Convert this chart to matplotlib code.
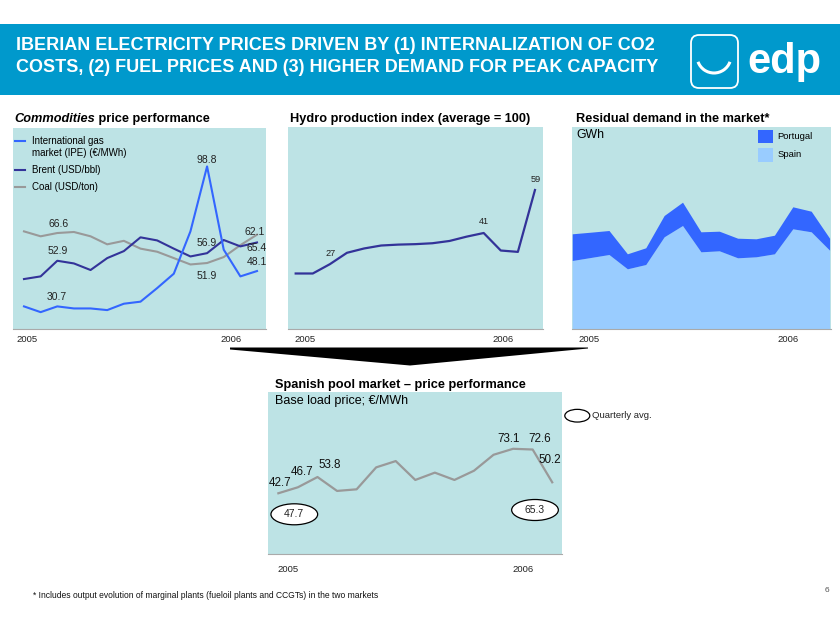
import matplotlib
matplotlib.use('Agg')
import matplotlib.pyplot as plt
from matplotlib.patches import Ellipse, Polygon, FancyBboxPatch, Arc, Rectangle

plt.rcParams['font.family'] = ['Liberation Sans', 'DejaVu Sans']

# ---------------- data ----------------
months = list(range(15))  # Jan 2005 .. Mar 2006, monthly
year_labels = ['2005', '2006']

gas = [30.7, 27.9, 30.7, 29.7, 29.7, 28.9, 32.0, 33.0, 39.6, 46.6, 67.2, 98.8, 58.3, 45.3, 47.9]
brent = [44.0, 45.3, 52.9, 51.6, 48.4, 54.2, 57.6, 64.3, 62.8, 58.8, 55.0, 56.6, 63.0, 59.9, 61.8]
coal = [67.2, 64.8, 66.4, 66.9, 64.8, 60.9, 62.6, 58.8, 57.3, 54.2, 51.1, 51.8, 54.7, 60.5, 65.6]
commodity_names = ['International gas\nmarket (IPE) (€/MWh)', 'Brent (USD/bbl)', 'Coal (USD/ton)']
commodity_labels = ['98.8', '66.6', '52.9', '30.7', '56.9', '62.1', '65.4', '48.1', '51.9']

hydro = [22.9, 22.9, 27.0, 32.0, 33.9, 35.2, 35.6, 35.8, 36.2, 37.2, 39.1, 40.7, 33.0, 32.4, 59.6]
hydro_labels = ['27', '41', '59']

spain = [6800, 7100, 7400, 5970, 6400, 9170, 10300, 7670, 7770, 7070, 7170, 7470, 9970, 9670, 7830]
portugal = [2670, 2530, 2400, 1500, 1670, 2130, 2330, 2000, 1960, 1960, 1800, 1860, 2200, 2060, 1200]
demand_names = ['Portugal', 'Spain']

pool = [42.7, 46.8, 53.8, 44.3, 45.4, 60.4, 64.7, 51.8, 56.8, 51.8, 58.1, 69.0, 73.1, 72.6, 50.2]
pool_labels = ['42.7', '46.7', '53.8', '73.1', '72.6', '50.2']
quarterly_avg = ['47.7', '65.3']

# ---------------- style ----------------
W, H = 840, 630
BG = '#BDE3E5'
C_GAS = '#3366FF'
C_BRENT = '#333399'
C_COAL = '#999999'
C_PT = '#3366FF'
C_ES = '#99CCFF'
BANNER = '#0099CC'
TITLE_FS = 9.2

fig = plt.figure(figsize=(W / 100, H / 100), dpi=100)
fig.patch.set_facecolor('white')


def ax_at(x0, y0, x1, y1):
    ax = fig.add_axes([x0 / W, 1 - y1 / H, (x1 - x0) / W, (y1 - y0) / H])
    ax.set_facecolor(BG)
    for s in ['top', 'left', 'right']:
        ax.spines[s].set_visible(False)
    ax.spines['bottom'].set_color('#AAAAAA')
    ax.spines['bottom'].set_linewidth(0.8)
    ax.set_yticks([])
    ax.tick_params(axis='x', length=0, labelsize=6.8, colors='#222222')
    return ax


# Panel 1: commodities
ax1 = ax_at(13, 128, 266, 329)
ax1.plot(months, coal, color=C_COAL, lw=1.5)
ax1.plot(months, brent, color=C_BRENT, lw=1.5)
ax1.plot(months, gas, color=C_GAS, lw=1.5)
ax1.set_xlim(-0.66, 14.54)
ax1.set_ylim(19.7, 117.5)
ax1.set_xticks([0.2, 12.44])
ax1.set_xticklabels(year_labels)
ax1.tick_params(axis='x', pad=4)

# Panel 2: hydro
ax2 = ax_at(288, 127, 543, 329)
ax2.plot(months, hydro, color=C_BRENT, lw=1.6)
ax2.set_xlim(-0.45, 14.47)
ax2.set_ylim(-1.5, 87.3)
ax2.set_xticks([0.56, 12.13])
ax2.set_xticklabels(year_labels)
ax2.tick_params(axis='x', pad=4)

# Panel 3: residual demand
ax3 = ax_at(572, 127, 831, 329)
ax3.stackplot(months, spain, portugal, colors=[C_ES, C_PT], lw=0)
ax3.set_xlim(-0.04, 14.05)
ax3.set_ylim(0, 20200)
ax3.set_xticks([0.87, 11.69])
ax3.set_xticklabels(year_labels)
ax3.tick_params(axis='x', pad=4)

# Panel 4: pool price
ax4 = ax_at(268, 392, 562, 554)
ax4.plot(months, pool, color='#999999', lw=1.6)
ax4.set_xlim(-0.53, 14.5)
ax4.set_ylim(1.2, 111.9)
ax4.set_xticks([0.51, 12.52])
ax4.set_xticklabels(year_labels)
ax4.tick_params(axis='x', pad=8)

# ---------------- overlay in pixel coordinates ----------------
ov = fig.add_axes([0, 0, 1, 1], zorder=10)
ov.set_xlim(0, W)
ov.set_ylim(H, 0)
ov.axis('off')

# banner
ov.add_patch(Rectangle((0, 24), W, 71, color=BANNER, lw=0))
ov.text(16, 45.5, 'IBERIAN ELECTRICITY PRICES DRIVEN BY (1) INTERNALIZATION OF CO2',
        color='white', fontsize=13.0, fontweight='bold', va='center', ha='left')
ov.text(16, 67.5, 'COSTS, (2) FUEL PRICES AND (3) HIGHER DEMAND FOR PEAK CAPACITY',
        color='white', fontsize=13.0, fontweight='bold', va='center', ha='left')
# logo
ov.add_patch(FancyBboxPatch((691, 35), 47, 53, boxstyle='round,pad=0,rounding_size=8',
                            fill=False, ec='white', lw=1.3))
ov.add_patch(Arc((714, 56), 34, 34, theta1=20, theta2=160, color='white', lw=2.2))
ov.text(784, 62, 'edp', color='white', fontsize=30, fontweight='bold', ha='center', va='center')

# panel titles
t1 = ov.text(14, 119, 'Commodities', fontsize=TITLE_FS, fontweight='bold', style='italic',
             va='center', ha='left')
ov.annotate(' price performance', xy=(1, 0.5), xycoords=t1, fontsize=TITLE_FS,
            fontweight='bold', va='center', ha='left')
ov.text(290, 119, 'Hydro production index (average = 100)', fontsize=TITLE_FS,
        fontweight='bold', va='center', ha='left')
ov.text(576, 119, 'Residual demand in the market*', fontsize=TITLE_FS,
        fontweight='bold', va='center', ha='left')
ov.text(275, 385, 'Spanish pool market – price performance', fontsize=TITLE_FS,
        fontweight='bold', va='center', ha='left')
ov.text(275, 401, 'Base load price; €/MWh', fontsize=9, va='center', ha='left')
ov.text(576, 135, 'GWh', fontsize=8.8, va='center', ha='left')

# panel 1 legend
for (yy, col) in [(140.7, C_GAS), (170, C_BRENT), (187, C_COAL)]:
    ov.plot([15, 25], [yy, yy], color=col, lw=1.5)
ov.text(32, 140.7, commodity_names[0].split('\n')[0], fontsize=7, va='center')
ov.text(32, 152.5, commodity_names[0].split('\n')[1], fontsize=7, va='center')
ov.text(32, 170, commodity_names[1], fontsize=7, va='center')
ov.text(32, 187, commodity_names[2], fontsize=7, va='center')

# panel 1 labels
p1_pos = [(206.7, 160), (58.3, 224), (57.3, 251), (56.7, 297), (206.7, 243),
          (255, 232), (256.7, 248), (256.7, 262), (206.7, 276)]
for lab, (xx, yy) in zip(commodity_labels, p1_pos):
    ov.text(xx, yy, lab, fontsize=7.5, ha='center', va='center', color='#222222')

# panel 2 labels
p2_pos = [(330.7, 253.3), (484, 221.7), (535.7, 179)]
for lab, (xx, yy) in zip(hydro_labels, p2_pos):
    ov.text(xx, yy, lab, fontsize=6.6, ha='center', va='center', color='#222222')

# panel 3 legend
ov.add_patch(Rectangle((758.3, 130), 15, 13.3, color=C_PT, lw=0))
ov.add_patch(Rectangle((758.3, 148.3), 15, 13.3, color=C_ES, lw=0))
ov.text(777.3, 136.7, demand_names[0], fontsize=6.8, va='center')
ov.text(777.3, 154.5, demand_names[1], fontsize=6.8, va='center')

# arrow wedge
ov.add_patch(Polygon([(230, 347.5), (588, 347.5), (588, 348.5), (410, 365.5), (230, 349.5)],
                     closed=True, color='black', lw=0))

# panel 4 labels
p4_pos = [(280, 483.3), (301.7, 471.7), (329.3, 465), (508.3, 439.3), (539.3, 439.3), (549.3, 460)]
for lab, (xx, yy) in zip(pool_labels, p4_pos):
    ov.text(xx, yy, lab, fontsize=8.4, ha='center', va='center', color='#111111')

for lab, (xx, yy) in zip(quarterly_avg, [(294.3, 514.3), (535, 510)]):
    ov.add_patch(Ellipse((xx, yy), 46.7, 21, fc='white', ec='black', lw=0.9))
    ov.text(xx, yy, lab, fontsize=7.5, ha='center', va='center', color='#222222')

ov.add_patch(Ellipse((577.3, 415.7), 25, 12.7, fc='white', ec='black', lw=0.9))
ov.text(591.7, 415.5, 'Quarterly avg.', fontsize=6.8, va='center', ha='left', color='#222222')

# footnote & page number
ov.text(33, 596, '* Includes output evolution of marginal plants (fueloil plants and CCGTs) in the two markets',
        fontsize=6.15, va='center', ha='left', color='#111111')
ov.text(827, 590, '6', fontsize=6, va='center', ha='center', color='#555555')

fig.savefig('out.png', dpi=100)
